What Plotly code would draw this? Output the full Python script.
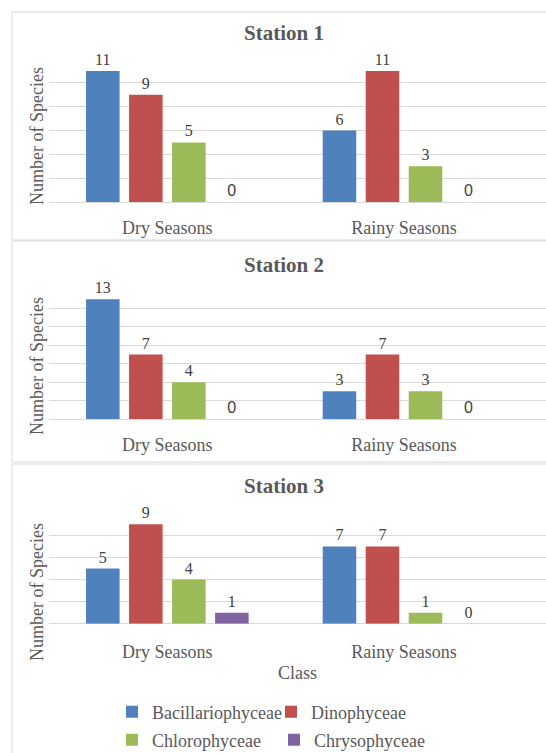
import plotly.graph_objects as go

# Seasonal phytoplankton class richness at three sampling stations
seasons = ["Dry Seasons", "Rainy Seasons"]
classes = ["Bacillariophyceae", "Dinophyceae", "Chlorophyceae", "Chrysophyceae"]
colors = ["#4f81bd", "#c0504d", "#9bbb59", "#8064a2"]

station1 = {
    "Bacillariophyceae": [11, 6],
    "Dinophyceae": [9, 11],
    "Chlorophyceae": [5, 3],
    "Chrysophyceae": [0, 0],
}
station2 = {
    "Bacillariophyceae": [13, 3],
    "Dinophyceae": [7, 7],
    "Chlorophyceae": [4, 3],
    "Chrysophyceae": [0, 0],
}
station3 = {
    "Bacillariophyceae": [5, 7],
    "Dinophyceae": [9, 7],
    "Chlorophyceae": [4, 1],
    "Chrysophyceae": [1, 0],
}
stations = [station1, station2, station3]
station_titles = ["Station 1", "Station 2", "Station 3"]
y_max = [12, 14, 10]

W, H = 546, 753
SERIF = "Liberation Serif"
SANS = "Liberation Sans"
GRID = "#d9d9d9"


def py(p):
    """pixel row -> paper y"""
    return 1 - p / H


def px(p):
    return p / W


# panel geometry in pixels: (top gridline, baseline)
plot_rows = [(59, 202), (290, 419), (513.3, 623.7)]
panel_boxes = [(12, 240), (241, 462), (464, 770)]
title_rows = [33, 264.5, 486]
ytitle_rows = [136, 366, 592]

# one legend box per class, laid out as a 2 x 2 key under the last panel
legend_ids = ["legend", "legend2", "legend3", "legend4"]
legend_pos = [(112, 712), (271, 712), (112, 740), (274, 740)]

fig = go.Figure()

for i, st in enumerate(stations):
    xa = "x" if i == 0 else f"x{i+1}"
    ya = "y" if i == 0 else f"y{i+1}"
    for k, cls in enumerate(classes):
        vals = st[cls]
        zero_all = all(v == 0 for v in vals)
        fig.add_trace(go.Bar(
            x=seasons, y=vals, name=cls,
            marker=dict(color=colors[k], line=dict(width=0)),
            text=[str(v) for v in vals], textposition="outside",
            textfont=dict(family=SANS if zero_all else SERIF,
                          size=16, color="#404040"),
            cliponaxis=False,
            xaxis=xa, yaxis=ya,
            legendgroup=cls,
            showlegend=(i == 0),
            legend=legend_ids[k],
        ))

layout = dict(
    width=W, height=H,
    margin=dict(l=0, r=0, t=0, b=0, autoexpand=False),
    paper_bgcolor="white", plot_bgcolor="white",
    barmode="group", bargap=0.273, bargroupgap=0.22,
    font=dict(family=SERIF, color="#595959"),
    showlegend=True,
)

for i in range(3):
    top, base = plot_rows[i]
    xk = "xaxis" if i == 0 else f"xaxis{i+1}"
    yk = "yaxis" if i == 0 else f"yaxis{i+1}"
    layout[xk] = dict(
        domain=[px(49), 1], range=[-0.5, 1.6],
        anchor="y" if i == 0 else f"y{i+1}",
        showgrid=False, showline=False, zeroline=False, ticks="",
        tickfont=dict(family=SERIF, size=18, color="#595959"),
        ticklabelstandoff=13 if i < 2 else 15,
        fixedrange=True,
    )
    layout[yk] = dict(
        domain=[py(base), py(top)], range=[0, y_max[i]], dtick=2,
        anchor="x" if i == 0 else f"x{i+1}",
        showgrid=True, gridcolor=GRID, gridwidth=1,
        zeroline=True, zerolinecolor=GRID, zerolinewidth=1,
        showticklabels=False, ticks="", showline=False,
        fixedrange=True,
    )

shapes = []
for (t, b) in panel_boxes:
    shapes.append(dict(type="rect", xref="paper", yref="paper",
                       x0=px(12), x1=px(560), y0=py(b), y1=py(t),
                       line=dict(color=GRID, width=1), layer="below"))
layout["shapes"] = shapes

annotations = []
for i in range(3):
    annotations.append(dict(
        text=f"<b>{station_titles[i]}</b>", xref="paper", yref="paper",
        x=px(284), y=py(title_rows[i]), xanchor="center", yanchor="middle",
        showarrow=False, font=dict(family=SERIF, size=21, color="#595959")))
    annotations.append(dict(
        text="Number of Species", xref="paper", yref="paper",
        x=px(37), y=py(ytitle_rows[i]), xanchor="center", yanchor="middle",
        textangle=-90, showarrow=False,
        font=dict(family=SERIF, size=18, color="#595959")))
annotations.append(dict(
    text="Class", xref="paper", yref="paper",
    x=px(297), y=py(672.5), xanchor="center", yanchor="middle",
    showarrow=False, font=dict(family=SERIF, size=18, color="#595959")))
layout["annotations"] = annotations

for lid, (lx, ly) in zip(legend_ids, legend_pos):
    layout[lid] = dict(
        orientation="h", xanchor="left", yanchor="middle",
        x=px(lx), y=py(ly),
        font=dict(family=SERIF, size=18, color="#595959"),
        bgcolor="rgba(0,0,0,0)", borderwidth=0,
        itemclick=False, itemdoubleclick=False,
    )

fig.update_layout(**layout)
fig.write_html("out.html")
